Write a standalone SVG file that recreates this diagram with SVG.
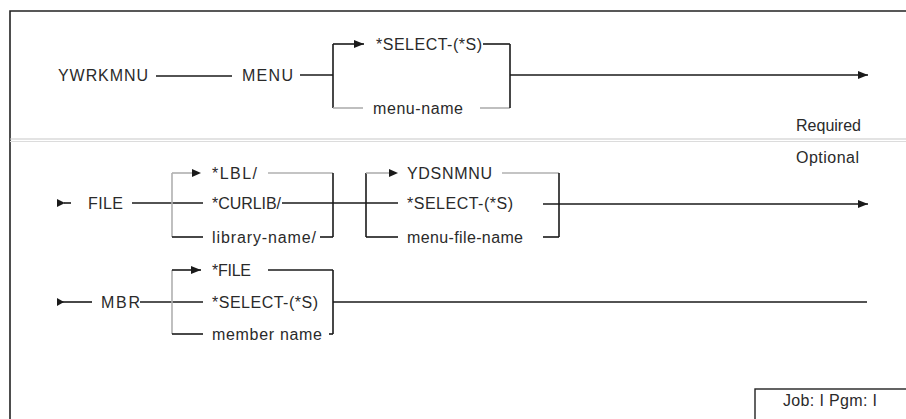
<svg xmlns="http://www.w3.org/2000/svg" width="906" height="419" viewBox="0 0 906 419">
<defs>
<style>
text{font-family:"Liberation Sans",Arial,sans-serif;font-size:16px;fill:#2a2a2a}
.l{stroke:#1a1a1a;stroke-width:1.6;fill:none}
.g{stroke:#b0b0b0;stroke-width:1.6;fill:none}
.a{fill:#1a1a1a}
</style>
<marker id="ah" viewBox="0 0 10 8" refX="10" refY="4" markerWidth="10" markerHeight="8" markerUnits="userSpaceOnUse" orient="auto"><path d="M0,0 L10,4 L0,8 Z" class="a"/></marker>
</defs>
<rect width="906" height="419" fill="#fff"/>
<path d="M10,419 V11 H906" stroke="#222" stroke-width="1.6" fill="none"/>
<line x1="10" y1="139" x2="906" y2="139" stroke="#c8c8c8" stroke-width="1.2"/>
<line x1="10" y1="141.5" x2="906" y2="141.5" stroke="#dcdcdc" stroke-width="1.2"/>
<g id="connectors">
<line class="l" x1="156" y1="76" x2="232" y2="76"/>
<line class="l" x1="300" y1="75" x2="333" y2="75"/>
<line class="l" x1="333" y1="44" x2="333" y2="108"/>
<line class="l" x1="333" y1="44" x2="364" y2="44" marker-end="url(#ah)"/>
<line class="l" x1="483" y1="44" x2="510" y2="44"/>
<line class="g" x1="333" y1="108" x2="363" y2="108"/>
<line class="g" x1="480" y1="108" x2="510" y2="108"/>
<line class="l" x1="510" y1="44" x2="510" y2="108"/>
<line class="l" x1="510" y1="75" x2="868" y2="75" marker-end="url(#ah)"/>
<path d="M57,199 L65,203 L57,207 Z" class="a"/>
<line class="l" x1="64" y1="203" x2="71" y2="203"/>
<line class="l" x1="132" y1="203" x2="203" y2="203"/>
<line class="g" x1="172" y1="173" x2="172" y2="237"/>
<line class="g" x1="172" y1="173" x2="192" y2="173"/>
<path d="M192,169 L201,173 L192,177 Z" class="a"/>
<line class="g" x1="268" y1="173" x2="333" y2="173"/>
<line class="l" x1="172" y1="237" x2="203" y2="237"/>
<line class="l" x1="320" y1="237" x2="333" y2="237"/>
<line class="l" x1="333" y1="173" x2="333" y2="237"/>
<line class="l" x1="282" y1="203" x2="398" y2="203"/>
<line class="l" x1="366" y1="173" x2="366" y2="237"/>
<line class="g" x1="366" y1="173" x2="389" y2="173"/>
<path d="M389,169 L398,173 L389,177 Z" class="a"/>
<line class="g" x1="502" y1="173" x2="559" y2="173"/>
<line class="l" x1="366" y1="237" x2="398" y2="237"/>
<line class="l" x1="543" y1="237" x2="559" y2="237"/>
<line class="l" x1="559" y1="173" x2="559" y2="237"/>
<line class="l" x1="543" y1="204" x2="868" y2="204" marker-end="url(#ah)"/>
<path d="M57,298 L64,302 L57,306 Z" class="a"/>
<line class="l" x1="62" y1="302" x2="92" y2="302"/>
<line class="l" x1="140" y1="302" x2="203" y2="302"/>
<line class="g" x1="172" y1="270" x2="172" y2="334"/>
<line class="l" x1="172" y1="270" x2="201" y2="270" marker-end="url(#ah)"/>
<line class="l" x1="268" y1="270" x2="333" y2="270"/>
<line class="l" x1="333" y1="270" x2="333" y2="334"/>
<line class="l" x1="172" y1="334" x2="203" y2="334"/>
<line class="l" x1="329" y1="334" x2="333" y2="334"/>
<line class="l" x1="333" y1="302" x2="867" y2="302"/>
</g>
<g id="n-ywrkmnu"><text x="58" y="81" textLength="90">YWRKMNU</text></g>
<g id="n-menu"><text x="242" y="81" textLength="51">MENU</text></g>
<g id="n-select1"><text x="376" y="50" textLength="106">*SELECT-(*S)</text></g>
<g id="n-menuname"><text x="373" y="114" textLength="90">menu-name</text></g>
<g id="n-required"><text x="796" y="131" textLength="65">Required</text></g>
<g id="n-optional"><text x="796" y="163" textLength="63">Optional</text></g>
<g id="n-file"><text x="88" y="209" textLength="35">FILE</text></g>
<g id="n-lbl"><text x="212" y="179" textLength="45">*LBL/</text></g>
<g id="n-curlib"><text x="212" y="209" textLength="69">*CURLIB/</text></g>
<g id="n-libname"><text x="212" y="243" textLength="104">library-name/</text></g>
<g id="n-ydsnmnu"><text x="407" y="179" textLength="85">YDSNMNU</text></g>
<g id="n-select2"><text x="407" y="209" textLength="106">*SELECT-(*S)</text></g>
<g id="n-menufile"><text x="407" y="243" textLength="116">menu-file-name</text></g>
<g id="n-mbr"><text x="101" y="308" textLength="39">MBR</text></g>
<g id="n-file2"><text x="212" y="276" textLength="39">*FILE</text></g>
<g id="n-select3"><text x="212" y="308" textLength="106">*SELECT-(*S)</text></g>
<g id="n-member"><text x="212" y="340" textLength="110">member name</text></g>
<g id="n-job"><rect x="755" y="389" width="160" height="40" fill="#fff" stroke="#222" stroke-width="1.4"/><text x="783" y="406" textLength="94">Job: I  Pgm: I</text></g>
</svg>
